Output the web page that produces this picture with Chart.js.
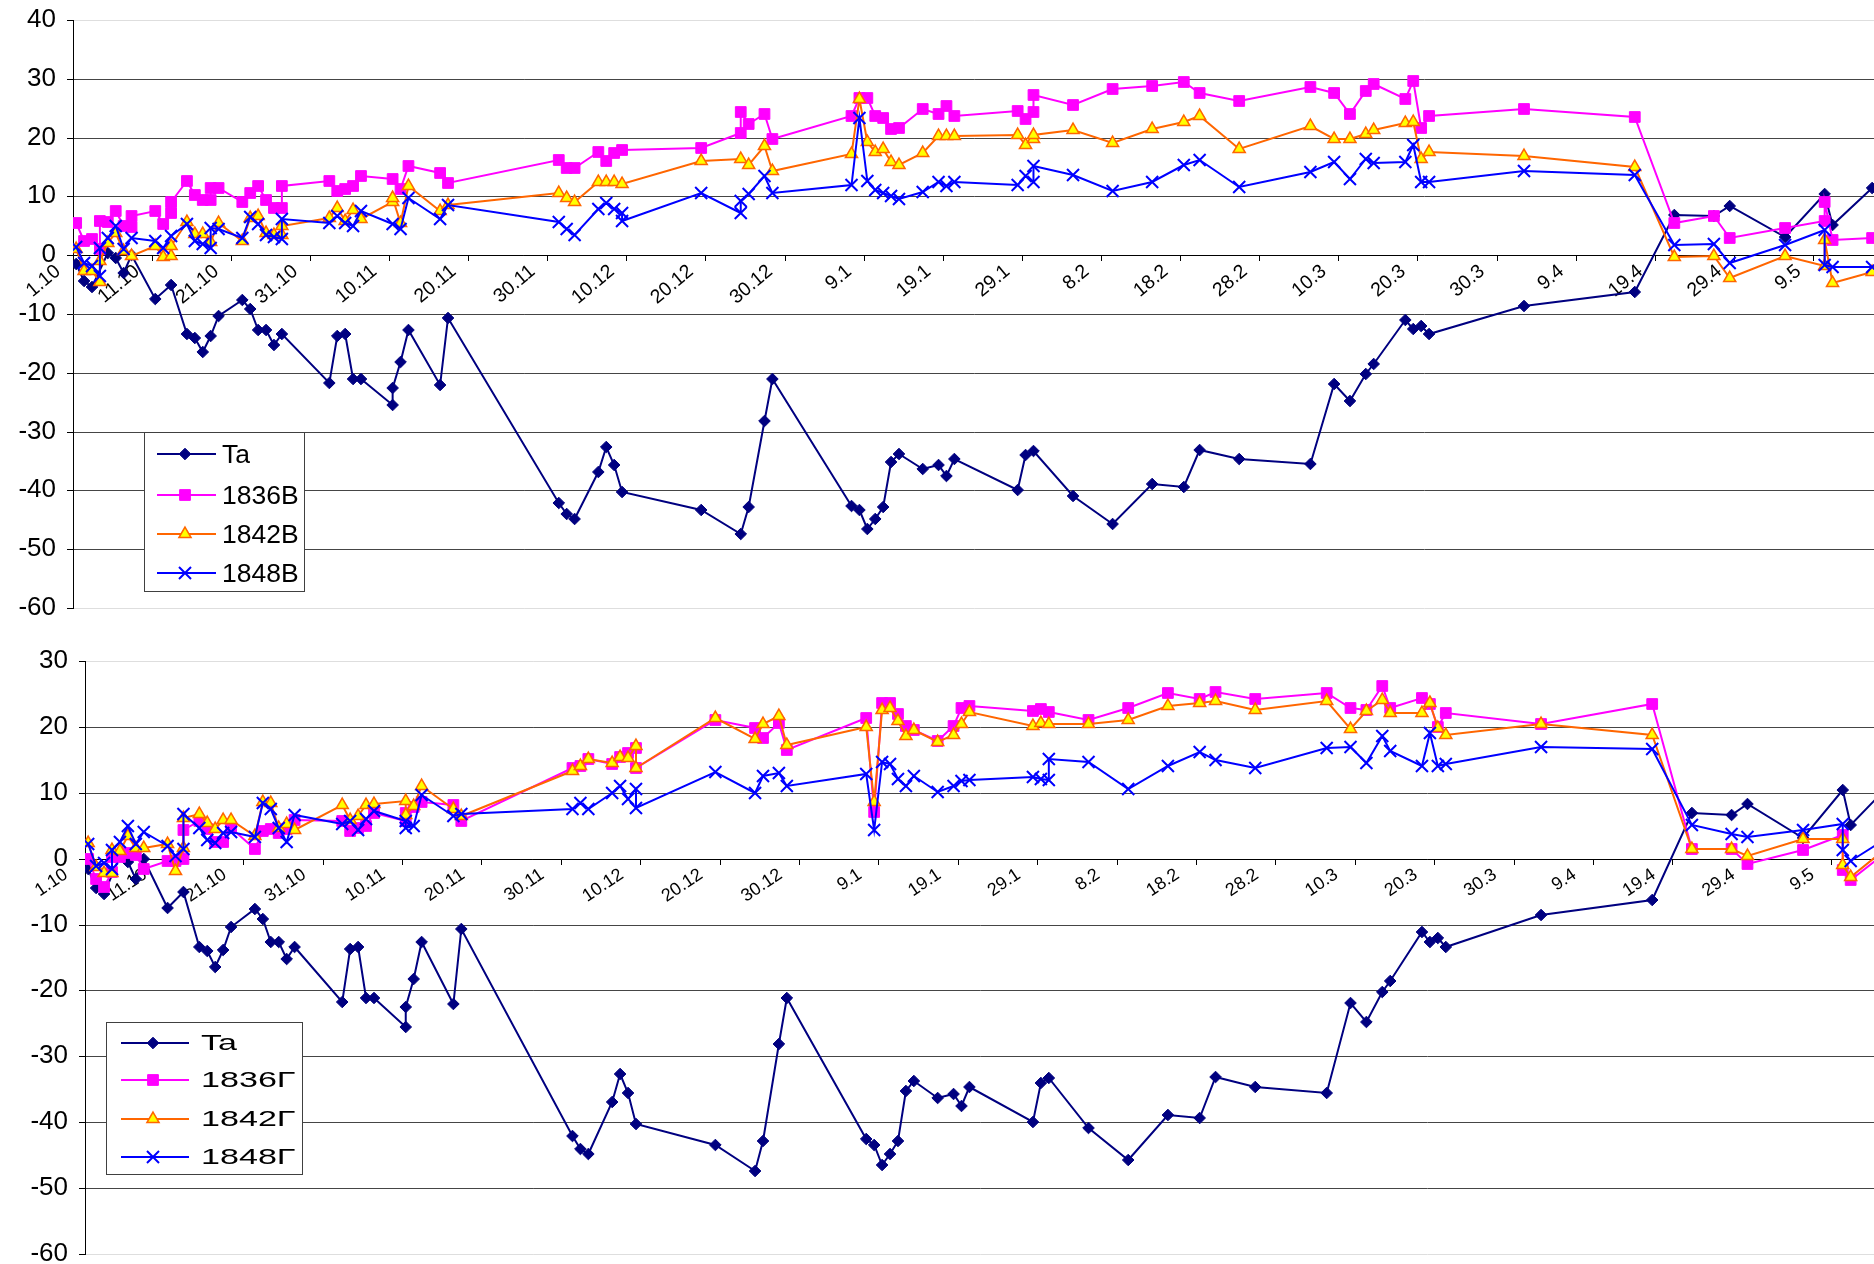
<!DOCTYPE html>
<html>
<head>
<meta charset="utf-8">
<script src="https://cdn.jsdelivr.net/npm/chart.js@4.4.1/dist/chart.umd.min.js"></script>
<style>
  html, body { margin: 0; padding: 0; background: #fff; overflow: hidden; }
  #wrap { position: relative; width: 1874px; height: 1264px; overflow: hidden; }
  #wrap > canvas { position: absolute; left: 0; }
  #chartTop { top: 0; }
  #chartBottom { top: 640px; }
  .legend { position: absolute; background: #fff; border: 1px solid #404040; box-sizing: border-box;
            font-family: 'Liberation Sans', Arial, sans-serif; color: #000; }
  .legend canvas { position: absolute; left: 0; top: 0; }
  .legend span { position: absolute; white-space: nowrap; line-height: 1; transform-origin: left center; }
</style>
</head>
<body>
<div id="wrap">
  <canvas id="chartTop" width="1874" height="630"></canvas>
  <canvas id="chartBottom" width="1874" height="640"></canvas>
  <div class="legend" id="legendTop"></div>
  <div class="legend" id="legendBottom"></div>
</div>
<script>
// Measurement dates (day.month), October to May; repeated dates are second readings on that day
const dates = [
  '1.10','2.10','3.10','4.10','4.10','5.10','6.10','7.10','8.10','8.10',
  '11.10','12.10','13.10','13.10','15.10','16.10','17.10','18.10','18.10','19.10',
  '22.10','23.10','24.10','25.10','26.10','27.10','27.10',
  '2.11','3.11','4.11','5.11','6.11','10.11','10.11','11.11','12.11','16.11','17.11',
  '1.12','2.12','3.12','6.12','7.12','8.12','9.12','9.12','19.12','24.12','24.12','25.12','27.12','28.12',
  '7.1','8.1','9.1','10.1','11.1','12.1','13.1','16.1','18.1','19.1','20.1','28.1','29.1','30.1','30.1',
  '4.2','9.2','14.2','18.2','20.2','25.2',
  '6.3','9.3','11.3','13.3','14.3','18.3','19.3','20.3','21.3',
  '2.4','16.4','21.4','26.4','28.4',
  '5.5','10.5','10.5','11.5','16.5'
];

// Air temperature Ta
const ta = [
  -1.5,-4.4,-5.4,null,null,0.4,-0.5,-3.1,0.0,null,
  -7.5,null,-5.0,null,-13.4,-14.0,-16.4,-13.8,null,-10.4,
  -7.6,-9.1,-12.7,-12.7,-15.2,-13.4,null,
  -21.8,-13.7,-13.4,-21.1,-21.1,-25.5,-22.5,-18.2,-12.7,-22.0,-10.7,
  -42.1,-44.0,-44.8,-36.9,-32.7,-35.6,-40.3,null,-43.4,-47.4,null,-42.8,-28.2,-21.1,
  -42.6,-43.4,-46.5,-44.8,-42.9,-35.2,-33.8,-36.3,-35.7,-37.6,-34.6,-40.0,-34.0,-33.3,null,
  -40.9,-45.7,-38.9,-39.4,-33.2,-34.7,
  -35.5,-21.9,-24.8,-20.2,-18.5,-11.1,-12.6,-12.0,-13.4,
  -8.6,-6.2,6.9,6.7,8.3,
  3.1,10.4,null,5.1,11.4
];

// Upper panel: series 1836В, 1842В, 1848В
const v1836 = [
  5.5,2.4,2.7,1.1,5.9,5.7,7.6,4.9,4.8,6.6,
  7.6,5.3,7.2,9.0,12.6,10.3,9.4,9.4,11.4,11.4,
  9.0,10.6,11.7,9.4,8.1,8.0,11.7,
  12.6,10.9,11.2,11.7,13.4,13.0,null,11.2,15.2,14.0,12.3,
  16.2,14.9,14.9,17.6,16.1,17.4,17.9,null,18.3,20.7,24.3,22.3,24.0,19.8,
  23.7,26.7,26.7,23.7,23.4,21.5,21.7,24.9,24.0,25.4,23.7,24.6,23.2,24.3,27.3,
  25.6,28.3,28.7,29.4,27.6,26.2,
  28.6,27.6,24.0,27.9,29.1,26.6,29.7,21.7,23.7,
  24.9,23.5,5.5,6.7,3.0,
  4.7,5.8,9.0,2.6,3.0
];
const v1842 = [
  1.0,-2.7,-2.7,-4.6,-1.0,2.1,3.7,0.7,-0.2,null,
  1.5,-0.3,-0.1,1.5,5.6,3.6,3.6,2.3,null,5.5,
  2.4,6.4,6.6,3.8,3.4,3.5,5.0,
  6.4,8.1,5.8,7.7,6.2,9.1,9.8,5.5,11.8,7.5,8.6,
  10.5,9.7,9.0,12.4,12.4,12.4,12.1,null,16.0,16.3,null,15.3,18.5,14.3,
  17.2,26.5,19.2,17.6,18.0,15.9,15.3,17.3,20.2,20.2,20.3,20.4,18.7,19.7,20.4,
  21.3,19.0,21.5,22.7,23.6,18.0,
  22.0,19.7,19.7,20.6,21.3,22.4,22.6,16.3,17.6,
  16.8,15.0,-0.3,-0.1,-3.9,
  -0.1,-1.8,2.6,-4.8,-2.9
];
const v1848 = [
  1.4,-1.3,-1.9,-3.6,1.3,3.0,5.0,1.0,3.0,null,
  2.4,1.3,3.3,null,5.3,2.4,1.9,1.3,4.6,4.4,
  3.0,6.5,5.3,3.4,3.1,2.7,6.2,
  5.5,6.7,5.5,5.0,7.5,5.3,null,4.5,9.8,6.1,8.5,
  5.7,4.5,3.5,7.9,8.9,7.9,7.2,5.8,10.5,7.1,9.2,10.4,13.5,10.5,
  12.0,23.3,12.7,11.1,10.6,10.0,9.6,10.8,12.5,11.8,12.5,12.0,13.5,12.5,15.1,
  13.7,11.0,12.5,15.3,16.2,11.6,
  14.2,15.8,12.9,16.3,15.7,15.9,18.8,12.5,12.5,
  14.3,13.6,1.7,1.9,-1.3,
  1.8,4.3,-1.6,-2.0,-2.0
];

// Lower panel: series 1836Г, 1842Г, 1848Г
const g1836 = [
  0.0,-3.1,-4.3,-2.0,0.2,0.3,0.8,0.5,-1.6,null,
  -0.3,-0.4,0.0,4.3,5.7,4.5,2.6,2.5,null,4.7,
  1.5,4.2,4.5,3.9,4.5,5.9,null,
  5.7,4.2,4.6,5.0,7.0,5.7,7.0,7.8,8.6,8.1,5.7,
  13.8,14.0,15.2,14.3,15.5,16.0,16.8,13.8,21.1,19.8,null,18.3,20.6,16.5,
  21.3,7.1,23.6,23.6,21.9,20.2,19.6,17.8,20.2,22.9,23.1,22.4,22.7,22.2,null,
  21.1,22.9,25.2,24.3,25.3,24.3,
  25.2,22.9,22.6,26.2,22.9,24.4,23.4,20.0,22.1,
  20.4,23.4,1.5,1.4,-0.8,
  1.3,3.6,-1.7,-3.2,1.5
];
const g1842 = [
  2.4,-1.2,-2.2,-2.2,1.3,1.1,3.4,1.6,1.6,null,
  2.3,-1.8,1.6,6.2,6.8,5.4,4.5,5.9,null,5.8,
  3.4,8.6,8.5,4.7,5.2,4.4,null,
  8.2,5.9,6.5,8.2,8.3,8.8,6.7,8.0,11.0,7.5,6.5,
  13.3,14.0,15.2,14.5,15.5,15.3,17.1,13.8,21.4,18.1,null,20.4,21.7,17.2,
  20.0,8.6,22.5,22.9,20.9,18.6,19.6,17.7,18.8,20.4,22.2,20.2,20.6,20.4,null,
  20.4,21.0,23.2,23.7,23.9,22.6,
  23.9,19.7,22.4,24.1,22.1,22.1,23.7,19.8,18.8,
  20.4,18.8,1.5,1.4,0.4,
  3.0,3.0,-0.9,-2.8,2.0
];
const g1848 = [
  2.3,-1.1,-0.6,-1.5,1.3,2.6,4.9,2.3,4.0,null,
  1.9,0.4,1.5,6.8,4.7,2.9,2.4,3.9,null,4.0,
  3.3,8.5,7.5,4.7,2.6,6.7,null,
  5.3,5.7,4.3,6.0,7.2,5.7,4.7,5.0,9.7,6.4,6.8,
  7.6,8.5,7.5,9.9,11.0,9.0,10.5,7.7,13.1,9.9,null,12.6,13.0,11.0,
  12.9,4.4,14.7,14.3,12.1,11.0,12.6,10.1,11.0,11.8,12.0,12.4,12.1,11.9,15.2,
  14.6,10.6,14.0,16.2,15.0,13.8,
  16.8,17.0,14.5,18.6,16.4,14.0,19.1,14.0,14.3,
  17.0,16.6,5.1,3.8,3.3,
  4.3,5.2,1.3,-0.4,3.4
];

// Date axis tick labels, every ten days
const tickLabels = ['1.10','11.10','21.10','31.10','10.11','20.11','30.11','10.12','20.12','30.12',
  '9.1','19.1','29.1','8.2','18.2','28.2','10.3','20.3','30.3','9.4','19.4','29.4','9.5'];

const topNames = ['Ta', '1836В', '1842В', '1848В'];
const bottomNames = ['Ta', '1836Г', '1842Г', '1848Г'];

// Days elapsed since 1 October (non-leap season)
const monthStart = { 10: 0, 11: 31, 12: 61, 1: 92, 2: 123, 3: 151, 4: 182, 5: 212 };
function dayOf(s) {
  const parts = s.split('.').map(Number);
  return monthStart[parts[1]] + parts[0] - 1;
}

const FONT = "'Liberation Sans', Arial, sans-serif";
const styles = [
  { color: '#000080', fill: '#000080', pointStyle: 'rectRot',  radius: 5.8, borderWidth: 1 },
  { color: '#ff00ff', fill: '#ff00ff', pointStyle: 'rect',     radius: 7.6, borderWidth: 1 },
  { color: '#ff6600', fill: '#ffff00', pointStyle: 'triangle', radius: 7.0, borderWidth: 1.5 },
  { color: '#0000ff', fill: '#0000ff', pointStyle: 'crossRot', radius: 8.5, borderWidth: 2 }
];

function points(vals) {
  return dates.map((d, i) => ({ x: dayOf(d) + 0.4, y: vals[i] }));
}

function chartConfig(names, valueSets, o) {
  return {
    type: 'line',
    data: {
      datasets: valueSets.map((vals, k) => ({
        label: names[k],
        data: points(vals),
        order: valueSets.length - k,
        borderColor: styles[k].color,
        borderWidth: 2,
        tension: 0,
        spanGaps: true,
        pointStyle: styles[k].pointStyle,
        pointRadius: styles[k].radius,
        pointBackgroundColor: styles[k].fill,
        pointBorderColor: styles[k].color,
        pointBorderWidth: styles[k].borderWidth
      }))
    },
    options: {
      responsive: false,
      maintainAspectRatio: false,
      animation: false,
      events: [],
      layout: { padding: { top: o.padTop, bottom: o.padBottom, left: 0, right: 0 } },
      plugins: { legend: { display: false }, tooltip: { enabled: false } },
      scales: {
        x: {
          type: 'linear',
          min: 0,
          max: o.xMax,
          position: { y: 0 },
          afterBuildTicks: s => { s.ticks = tickLabels.map(l => ({ value: dayOf(l) })); },
          afterFit: s => { s.paddingLeft = 0; s.paddingRight = 0; },
          ticks: {
            autoSkip: false,
            minRotation: o.rotation,
            maxRotation: o.rotation,
            labelOffset: o.labelOffset,
            padding: 0,
            color: '#000',
            font: { family: FONT, size: o.xFont },
            callback: (v, i) => tickLabels[i]
          },
          grid: { drawOnChartArea: false, drawTicks: true, tickLength: 5, color: '#000' },
          border: { display: true, color: '#000', width: 1 }
        },
        y: {
          min: o.yMin,
          max: o.yMax,
          alignToPixels: true,
          afterFit: s => { s.width = o.axisX; },
          ticks: { stepSize: 10, padding: 11, color: '#000', font: { family: FONT, size: 26, lineHeight: 0.5 } },
          grid: {
            color: c => (c.tick && (c.tick.value === o.yMax || c.tick.value === o.yMin)) ? '#dedede' : '#454545',
            tickColor: '#000',
            tickLength: 6,
            lineWidth: 1
          },
          border: { display: true, color: '#000', width: 1 }
        }
      }
    }
  };
}

// The plot area runs to the right edge of the page; widen the canvas if layout leaves a gap there
function buildChart(id, names, valueSets, o) {
  const canvas = document.getElementById(id);
  let chart = new Chart(canvas, chartConfig(names, valueSets, o));
  const gap = 1874 - chart.chartArea.right;
  if (gap > 0.5) {
    chart.destroy();
    canvas.width = Math.round(1874 + gap);
    canvas.height = o.height;
    chart = new Chart(canvas, chartConfig(names, valueSets, o));
  }
  return chart;
}

buildChart('chartTop', topNames, [ta, v1836, v1842, v1848],
  { xMax: 227.7, yMin: -60, yMax: 40, axisX: 73, padTop: 20, padBottom: 22, height: 630,
    rotation: 40, labelOffset: -15, xFont: 19.5 });
buildChart('chartBottom', bottomNames, [ta, g1836, g1842, g1848],
  { xMax: 225.4, yMin: -60, yMax: 30, axisX: 85, padTop: 21, padBottom: 26, height: 640,
    rotation: 34, labelOffset: -19, xFont: 18 });

// Legend boxes drawn in the plot area
function drawMarker(ctx, st, x, y) {
  const r = st.radius;
  ctx.beginPath();
  if (st.pointStyle === 'rectRot') {
    ctx.moveTo(x - r, y); ctx.lineTo(x, y - r); ctx.lineTo(x + r, y); ctx.lineTo(x, y + r); ctx.closePath();
  } else if (st.pointStyle === 'rect') {
    const s = r * Math.SQRT1_2; ctx.rect(x - s, y - s, 2 * s, 2 * s);
  } else if (st.pointStyle === 'triangle') {
    for (let a = 0; a < 3; a++) {
      const ang = a * 2 * Math.PI / 3;
      const px = x + Math.sin(ang) * r, py = y - Math.cos(ang) * r;
      if (a === 0) ctx.moveTo(px, py); else ctx.lineTo(px, py);
    }
    ctx.closePath();
  } else if (st.pointStyle === 'crossRot') {
    const s = r * Math.SQRT1_2;
    ctx.moveTo(x - s, y - s); ctx.lineTo(x + s, y + s);
    ctx.moveTo(x - s, y + s); ctx.lineTo(x + s, y - s);
  }
  ctx.fillStyle = st.fill; ctx.strokeStyle = st.color; ctx.lineWidth = st.borderWidth;
  if (st.pointStyle !== 'crossRot') ctx.fill();
  ctx.stroke();
}

function buildLegend(id, names, L) {
  const el = document.getElementById(id);
  Object.assign(el.style, { left: L.x + 'px', top: L.y + 'px', width: L.w + 'px', height: L.h + 'px' });
  const cv = document.createElement('canvas');
  cv.width = L.w; cv.height = L.h;
  el.appendChild(cv);
  const ctx = cv.getContext('2d');
  names.forEach((name, k) => {
    const y = L.rows[k];
    ctx.beginPath();
    ctx.strokeStyle = styles[k].color; ctx.lineWidth = 2;
    ctx.moveTo(L.x0, y); ctx.lineTo(L.x1, y); ctx.stroke();
    drawMarker(ctx, styles[k], L.xm, y);
    const sp = document.createElement('span');
    sp.textContent = name;
    Object.assign(sp.style, {
      left: L.tx + 'px', top: (y - 0.5 * L.size) + 'px', fontSize: L.size + 'px',
      transform: 'scaleX(' + L.stretch + ')'
    });
    el.appendChild(sp);
  });
}

buildLegend('legendTop', topNames,
  { x: 144, y: 432, w: 161, h: 160, rows: [21, 62, 101, 140], x0: 12, x1: 71, xm: 40, tx: 77, size: 25, stretch: 1.06 });
buildLegend('legendBottom', bottomNames,
  { x: 106, y: 1022, w: 197, h: 153, rows: [20, 57, 96, 134], x0: 14, x1: 82, xm: 46, tx: 94, size: 22, stretch: 1.55 });
</script>
</body>
</html>
